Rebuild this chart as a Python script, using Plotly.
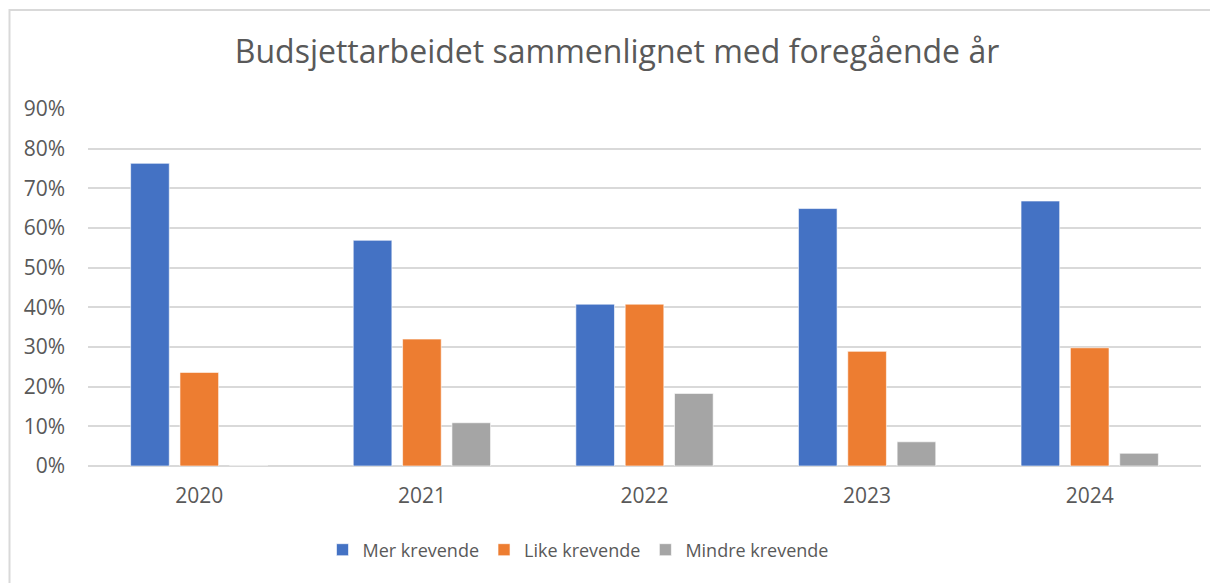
import plotly.graph_objects as go

years = ["2020", "2021", "2022", "2023", "2024"]
mer_krevende = [76.3, 56.9, 40.8, 64.9, 66.8]
like_krevende = [23.6, 32.0, 40.8, 28.9, 29.8]
mindre_krevende = [0.0, 10.9, 18.3, 6.1, 3.2]
y_ticks = [0, 10, 20, 30, 40, 50, 60, 70, 80, 90]

series = [
    ("Mer krevende", mer_krevende, "#4472C4"),
    ("Like krevende", like_krevende, "#ED7D31"),
    ("Mindre krevende", mindre_krevende, "#A5A5A5"),
]

FONT = "Open Sans"
TXT = "#595959"
OFF = 8  # page body margin offset

fig = go.Figure()
for name, vals, col in series:
    fig.add_trace(go.Bar(
        x=years, y=vals, name=name,
        marker=dict(color=col, line=dict(color="rgba(255,255,255,0.6)", width=1)),
    ))

W, H = 1218, 583
# target pixel positions in the screenshot
px_left, px_right, px_top, px_bottom = 88, 1201, 109, 466
L = px_left - OFF
T = px_top - OFF
R = W - (px_right - OFF)
B = H - (px_bottom - OFF)
pw = W - L - R
ph = H - T - B


def xp(px):
    return (px - OFF - L) / pw


def yp(py):
    return (H - B - (py - OFF)) / ph


fig.update_layout(
    width=W, height=H,
    margin=dict(l=L, r=R, t=T, b=B),
    paper_bgcolor="white", plot_bgcolor="white",
    barmode="group", bargap=0.335, bargroupgap=0.217,
    font=dict(family=FONT, color=TXT),
    title=dict(text="Budsjettarbeidet sammenlignet med foregående år",
               x=(617 - OFF) / W, xanchor="center", xref="container",
               y=1 - (52 - OFF) / H, yanchor="middle", yref="container",
               font=dict(size=32, family=FONT, color=TXT)),
    legend=dict(orientation="h", x=xp(578), xanchor="center",
                y=yp(550), yanchor="middle",
                font=dict(size=18, family=FONT, color=TXT),
                itemwidth=30, traceorder="normal"),
    xaxis=dict(showgrid=False, showline=False, ticks="",
               tickfont=dict(size=21, color=TXT), ticklabelstandoff=15),
    yaxis=dict(range=[0, 90], tickvals=y_ticks,
               ticktext=[f"{v}%" for v in y_ticks],
               showgrid=True, gridcolor="#D9D9D9", gridwidth=1.5,
               zeroline=True, zerolinecolor="#D9D9D9", zerolinewidth=1.5,
               showline=False, ticks="",
               tickfont=dict(size=21, color=TXT), ticklabelstandoff=22),
    showlegend=True,
)

# outer chart border
fig.add_shape(type="rect", xref="paper", yref="paper",
              x0=xp(OFF + 1.5), x1=xp(W + 20),
              y0=yp(H + 20), y1=yp(10),
              line=dict(color="#D9D9D9", width=2), fillcolor="rgba(0,0,0,0)",
              layer="below")

fig.write_html("out.html")
